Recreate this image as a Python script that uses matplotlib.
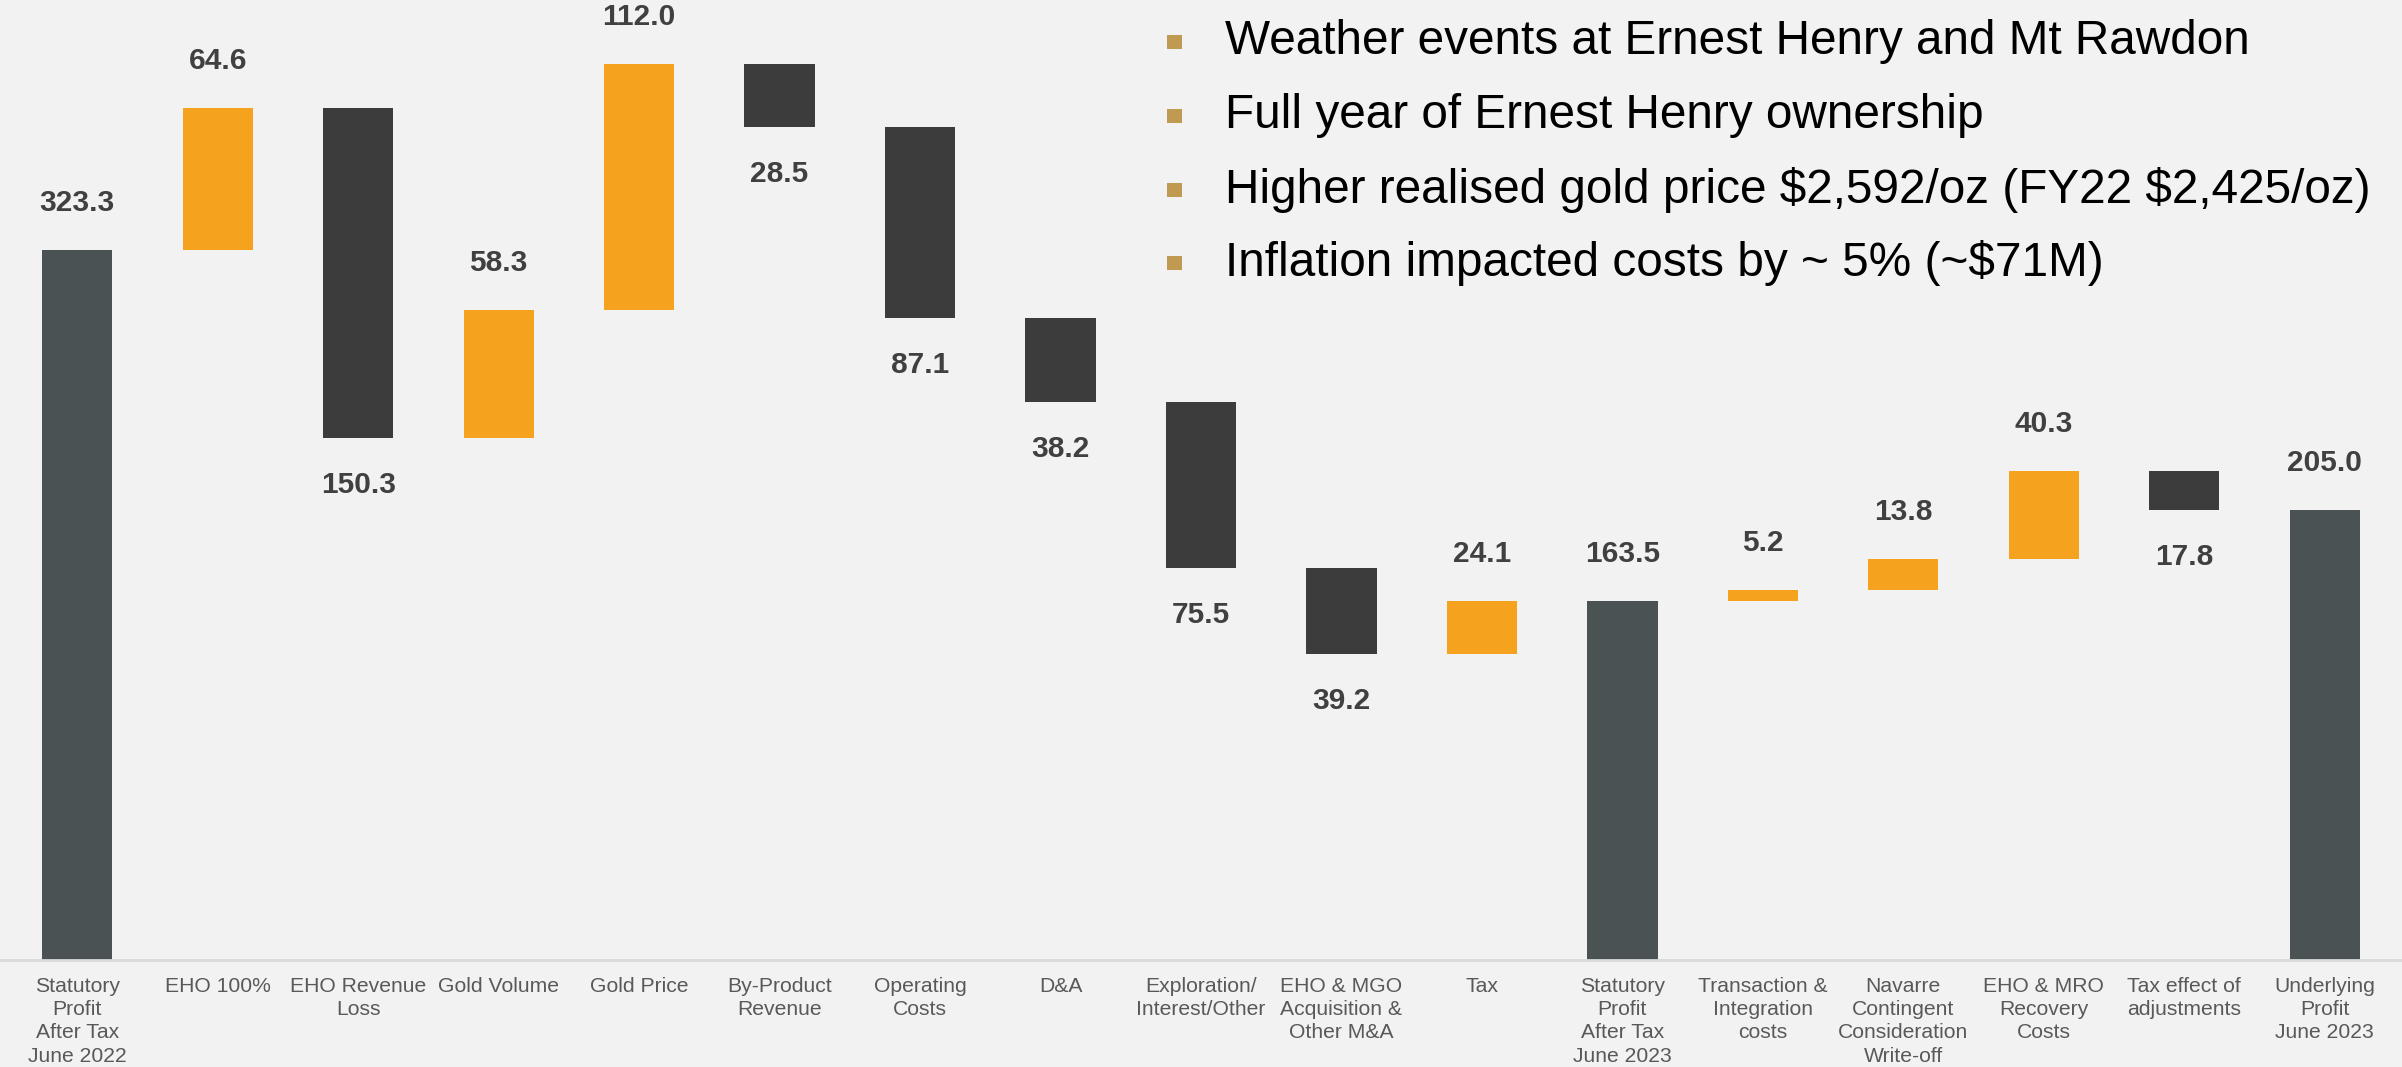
import matplotlib
matplotlib.use("Agg")
import matplotlib.pyplot as plt
from matplotlib.patches import Rectangle

plt.rcParams['font.family'] = ['Liberation Sans', 'DejaVu Sans']

# данные водопада (A$M)
categories = ["Statutory\nProfit\nAfter Tax\nJune 2022", "EHO 100%", "EHO Revenue\nLoss",
              "Gold Volume", "Gold Price", "By-Product\nRevenue", "Operating\nCosts", "D&A",
              "Exploration/\nInterest/Other", "EHO & MGO\nAcquisition &\nOther M&A", "Tax",
              "Statutory\nProfit\nAfter Tax\nJune 2023", "Transaction &\nIntegration\ncosts",
              "Navarre\nContingent\nConsideration\nWrite-off", "EHO & MRO\nRecovery\nCosts",
              "Tax effect of\nadjustments", "Underlying\nProfit\nJune 2023"]
values = [323.3, 64.6, -150.3, 58.3, 112.0, -28.5, -87.1, -38.2, -75.5, -39.2, 24.1,
          163.5, 5.2, 13.8, 40.3, -17.8, 205.0]
is_total = [True, False, False, False, False, False, False, False, False, False, False,
            True, False, False, False, False, True]

bullets = ["Weather events at Ernest Henry and Mt Rawdon",
           "Full year of Ernest Henry ownership",
           r"Higher realised gold price \$2,592/oz (FY22 \$2,425/oz)",
           r"Inflation impacted costs by ~ 5% (~\$71M)"]

bg = '#f2f2f2'
c_total = '#4a5254'
c_up = '#f5a31e'
c_down = '#3c3c3c'

fig = plt.figure(figsize=(24.02, 10.67), dpi=100, facecolor=bg)
ax = fig.add_axes([0.0, 0.1, 1.0, 0.9], facecolor=bg)

# считаем низ и высоту каждого столбика
running = 0
bottoms, heights, colors = [], [], []
for v, t in zip(values, is_total):
    if t:
        bottoms.append(0)
        heights.append(v)
        colors.append(c_total)
        running = v
    elif v >= 0:
        bottoms.append(running)
        heights.append(v)
        colors.append(c_up)
        running += v
    else:
        bottoms.append(running + v)
        heights.append(-v)
        colors.append(c_down)
        running += v

x = list(range(len(values)))
ax.bar(x, heights, bottom=bottoms, width=0.5, color=colors)

# подписи значений
for i, v in enumerate(values):
    if is_total[i] or v >= 0:
        ax.annotate(f"{abs(v):.1f}", (i, bottoms[i] + heights[i]), xytext=(0, 33),
                    textcoords='offset pixels', ha='center', va='bottom',
                    fontsize=21.5, fontweight='bold', color='#404040')
    else:
        ax.annotate(f"{abs(v):.1f}", (i, bottoms[i]), xytext=(0, -33),
                    textcoords='offset pixels', ha='center', va='top',
                    fontsize=21.5, fontweight='bold', color='#404040')

ax.set_xlim(-0.55, len(values) - 0.45)
ax.set_ylim(0, 437)
ax.set_xticks(x)
ax.set_xticklabels(categories, fontsize=15.2, color='#595959', linespacing=1.28)
ax.tick_params(axis='x', length=0, pad=12)
ax.set_yticks([])
for s in ['top', 'right', 'left']:
    ax.spines[s].set_visible(False)
ax.spines['bottom'].set_color('#d9d9d9')
ax.spines['bottom'].set_linewidth(2)

# пункты справа сверху
W, H = 2402, 1067
for k, txt in enumerate(bullets):
    yc = 42 + k * 73.8
    fig.add_artist(Rectangle((1167 / W, 1 - (yc + 7) / H), 15 / W, 14 / H,
                             transform=fig.transFigure, color='#bf9a50', lw=0))
    fig.text(1225 / W, 1 - yc / H, txt, fontsize=34.4, color='black',
             ha='left', va='center')

fig.savefig('out.png', dpi=100, facecolor=bg)
